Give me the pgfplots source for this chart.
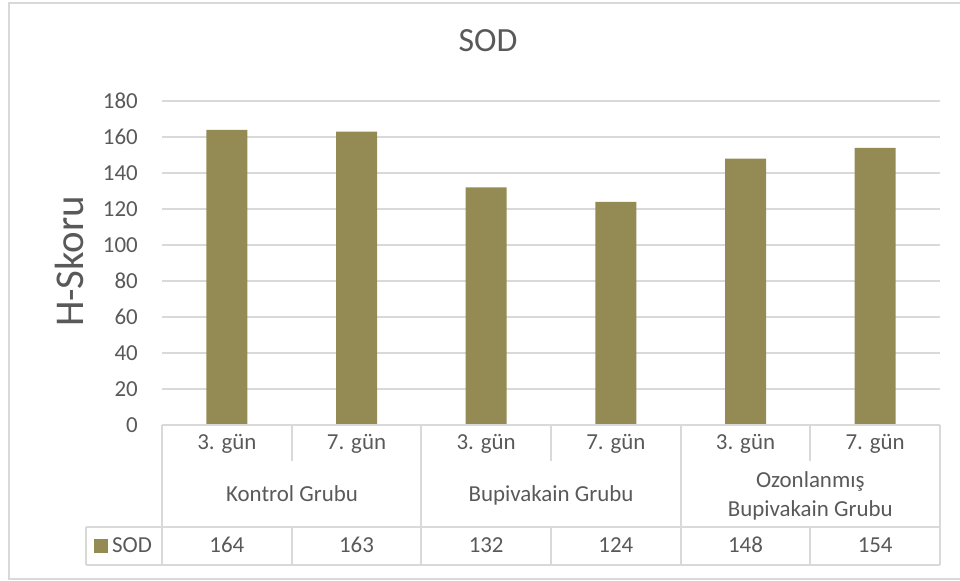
\documentclass[border=0pt]{standalone}
\usepackage{pgfplots}
\pgfplotsset{compat=1.18}
\usepackage{pgfplotstable}
\usepackage{fontspec}
\setmainfont{Carlito}

\definecolor{barolive}{HTML}{948A54}
\definecolor{txtgray}{HTML}{595959}
\definecolor{linegray}{HTML}{D9D9D9}

% SOD H-scores per group and day
\pgfplotstableread{
idx sod
0 164
1 163
2 132
3 124
4 148
5 154
}\sodtable

\newcommand{\ticksize}{\fontsize{23}{27}\selectfont}

\begin{document}
\begin{tikzpicture}
\begin{axis}[
  name=ax,
  at={(162bp,156bp)}, anchor=south west,
  scale only axis, width=778bp, height=324bp,
  xmin=-0.5, xmax=5.5, ymin=0, ymax=180,
  ytick={0,20,...,180},
  xtick={0,...,5},
  xticklabels={3. gün,7. gün,3. gün,7. gün,3. gün,7. gün},
  axis line style={draw=none},
  major tick length=0pt,
  ymajorgrids,
  major grid style={linegray, line width=1.3bp},
  /pgf/number format/assume math mode=true,
  tick label style={font=\ticksize, text=txtgray, inner sep=0pt},
  yticklabel style={anchor=east, xshift=-24bp},
  xticklabel style={anchor=base, yshift=-25bp},
  title={SOD},
  title style={at={(axis description cs:0.419,1.1358)}, anchor=base,
    font=\fontsize{34}{40}\selectfont, text=txtgray, inner sep=0pt},
  ylabel={H-Skoru},
  every axis y label/.style={at={(axis description cs:-0.1015,0.505)},
    rotate=90, anchor=base, font=\fontsize{41}{48}\selectfont,
    text=txtgray, inner sep=0pt},
  clip=false,
]
\addplot[ybar, bar width=41bp, bar shift=0pt, fill=barolive, draw=none]
  table[x=idx, y=sod] {\sodtable};
\end{axis}

\begin{scope}[x=1bp,y=1bp]
% chart frame
\draw[linegray, line width=1.3bp] (975,578) -- (9,578) -- (9,2) -- (975,2);

% data table below the plot
\begin{scope}[linegray, line width=1.3bp]
\draw (162,156) -- (940,156);
\foreach \xx in {162,421,681,940} \draw (\xx,156) -- (\xx,16);
\foreach \xx in {292,551,810} {\draw (\xx,156) -- (\xx,120); \draw (\xx,54) -- (\xx,16);}
\draw (86,54) -- (940,54);
\draw (86,16) -- (940,16);
\draw (86,54) -- (86,16);
\end{scope}

\begin{scope}[every node/.style={text=txtgray, font=\ticksize, inner sep=0pt, anchor=base}]
\node at (292,79) {Kontrol Grubu};
\node at (551,79) {Bupivakain Grubu};
\node at (810.3,93) {Ozonlanmış};
\node at (810.3,64) {Bupivakain Grubu};
\foreach \i in {0,...,5}{
  \pgfplotstablegetelem{\i}{sod}\of\sodtable
  \node at ({162+129.667*(\i+0.5)},28) {\pgfplotsretval};
}
\fill[barolive] (94,28) rectangle (108,42);
\node[anchor=base west] at (112,28) {SOD};
\end{scope}

\pgfresetboundingbox
\path[use as bounding box] (0,0) rectangle (960,581);
\end{scope}
\end{tikzpicture}
\end{document}
